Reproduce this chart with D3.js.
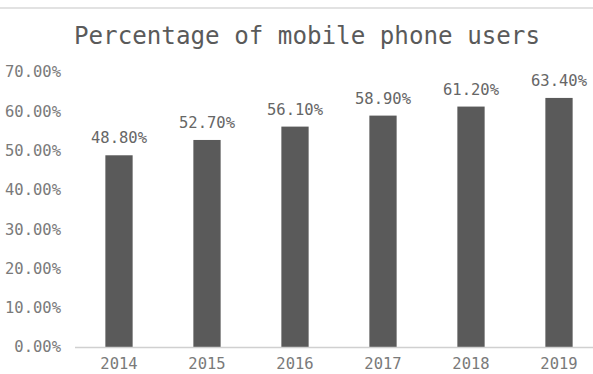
<!DOCTYPE html>
<html>
<head>
<meta charset="utf-8">
<script src="https://cdn.jsdelivr.net/npm/d3@7"></script>
<style>
  html, body { margin: 0; padding: 0; background: #fff; }
  svg { display: block; }
</style>
</head>
<body>
<svg id="chart" width="593" height="374"></svg>
<script>
const title = "Percentage of mobile phone users";
const years = ["2014", "2015", "2016", "2017", "2018", "2019"];
const values = [48.8, 52.7, 56.1, 58.9, 61.2, 63.4];
const yTicks = [0, 10, 20, 30, 40, 50, 60, 70];

const W = 593, H = 374;
const svg = d3.select("#chart");
const font = "'DejaVu Sans Mono', 'Liberation Mono', monospace";

// top separator line
svg.append("rect").attr("x", 0).attr("y", 7).attr("width", W).attr("height", 2).attr("fill", "#e2e2e2");

const x = d3.scaleBand().domain(years).range([75, 603]).paddingInner(0.69).paddingOuter(0.345);
const y = d3.scaleLinear().domain([0, 70]).range([347, 72]);

svg.append("text")
  .attr("x", 307).attr("y", 44)
  .attr("text-anchor", "middle")
  .attr("font-family", font).attr("font-size", 24.2)
  .attr("fill", "#5a5a5a")
  .text(title);

// y axis
const yAxis = d3.axisLeft(y).tickValues(yTicks).tickSize(0).tickPadding(0)
  .tickFormat(d => d.toFixed(2) + "%");
const ya = svg.append("g").attr("transform", "translate(61,0)").call(yAxis);
ya.select(".domain").remove();
ya.selectAll("text").attr("font-family", font).attr("font-size", 15.5).attr("fill", "#7a7a7a");

// bars
svg.selectAll("rect.bar").data(values).join("rect")
  .attr("class", "bar")
  .attr("x", (d, i) => x(years[i]))
  .attr("width", x.bandwidth())
  .attr("y", d => y(d))
  .attr("height", d => y(0) - y(d))
  .attr("fill", "#5a5a5a");

// baseline
svg.append("line").attr("x1", 75).attr("x2", W).attr("y1", y(0) + 0.5).attr("y2", y(0) + 0.5)
  .attr("stroke", "#d0d0d0").attr("stroke-width", 1.5);

// value labels
svg.selectAll("text.val").data(values).join("text")
  .attr("class", "val")
  .attr("x", (d, i) => x(years[i]) + x.bandwidth() / 2)
  .attr("y", d => y(d) - 12)
  .attr("text-anchor", "middle")
  .attr("font-family", font).attr("font-size", 15.5)
  .attr("fill", "#666")
  .text(d => d.toFixed(2) + "%");

// x axis labels
const xAxis = d3.axisBottom(x).tickSize(0).tickPadding(0);
const xa = svg.append("g").attr("transform", "translate(0,358)").call(xAxis);
xa.select(".domain").remove();
xa.selectAll("text").attr("font-family", font).attr("font-size", 15.5).attr("fill", "#7a7a7a");
</script>
</body>
</html>
